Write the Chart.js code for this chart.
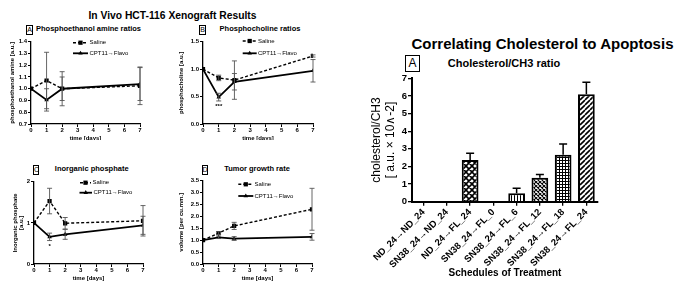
<!DOCTYPE html>
<html><head><meta charset="utf-8">
<script src="https://cdn.jsdelivr.net/npm/chart.js@4/dist/chart.umd.min.js"></script>
<style>
html,body{margin:0;padding:0;background:#fff;}
body{width:678px;height:281px;position:relative;overflow:hidden;font-family:"Liberation Sans",Arial,sans-serif;color:#000;}
canvas{position:absolute;}
.t{position:absolute;transform:translate(-50%,-50%);white-space:nowrap;font-weight:bold;line-height:1;}
.box{position:absolute;border:1px solid #000;box-sizing:border-box;text-align:center;}
</style></head><body>
<div class="t" style="left:172.5px;top:16px;font-size:10.3px">In Vivo HCT-116 Xenograft Results</div>
<div class="box" style="left:26px;top:25px;width:7px;height:10px;font-size:7px;line-height:8px">A</div>
<div class="t" style="left:88.5px;top:29px;font-size:7.5px">Phosphoethanol amine ratios</div>
<div class="box" style="left:199px;top:25px;width:7px;height:10px;font-size:7px;line-height:8px">B</div>
<div class="t" style="left:260px;top:29px;font-size:7.5px">Phosphocholine ratios</div>
<div class="box" style="left:33px;top:165px;width:6px;height:9.5px;font-size:7px;line-height:8px">C</div>
<div class="t" style="left:91.7px;top:169.3px;font-size:7.5px">Inorganic phosphate</div>
<div class="box" style="left:201.5px;top:165px;width:6px;height:9.5px;font-size:7px;line-height:8px">D</div>
<div class="t" style="left:257px;top:169px;font-size:7.5px">Tumor growth rate</div>
<div class="t" style="left:542.5px;top:42.7px;font-size:15px">Correlating Cholesterol to Apoptosis</div>
<div class="box" style="left:405px;top:55px;width:15px;height:17px;font-size:12px;line-height:15px;border-width:1.5px">A</div>
<div class="t" style="left:504px;top:62.7px;font-size:11px">Cholesterol/CH3 ratio</div>

<canvas id="cA" width="170" height="120" style="left:0;top:20px"></canvas>
<canvas id="cB" width="170" height="120" style="left:170px;top:20px"></canvas>
<canvas id="cC" width="170" height="141" style="left:0;top:140px"></canvas>
<canvas id="cD" width="170" height="141" style="left:170px;top:140px"></canvas>
<canvas id="cR" width="338" height="211" style="left:340px;top:70px"></canvas>

<script>
// ---------- DATA ----------
const days = [0, 1, 2, 7];
const seriesNames = ['Saline', 'CPT11\u2192Flavo'];

// A: Phosphoethanol amine ratios
const peSaline = [1.00, 1.07, 1.00, 1.025];
const peSalineErr = [0, 0.24, 0.145, 0.16];
const peCpt = [1.00, 0.905, 1.00, 1.04];
const peCptErr = [0, 0.095, 0.10, 0.14];
const peTicks = [0.7, 0.8, 0.9, 1.0, 1.1, 1.2, 1.3, 1.4];

// B: Phosphocholine ratios
const pcSaline = [1.00, 0.84, 0.80, 1.24];
const pcSalineErr = [0, 0.05, 0.35, 0.02];
const pcCpt = [1.00, 0.49, 0.77, 0.97];
const pcCptErr = [0, 0.07, 0.15, 0.205];
const pcTicks = [0, 0.5, 1.0, 1.5];

// C: Inorganic phosphate
const ipSaline = [1.00, 1.53, 0.99, 1.05];
const ipSalineErr = [0, 0.31, 0.14, 0.37];
const ipCpt = [1.00, 0.66, 0.72, 0.94];
const ipCptErr = [0, 0.09, 0.12, 0.22];
const ipTicks = [0, 1, 2];

// D: Tumor growth rate
const tgSaline = [1.00, 1.30, 1.60, 2.30];
const tgSalineErr = [0, 0.06, 0.15, 0.88];
const tgCpt = [1.00, 1.12, 1.07, 1.14];
const tgCptErr = [0, 0.05, 0.08, 0.14];
const tgTicks = [0, 0.5, 1.0, 1.5, 2.0, 2.5, 3.0, 3.5];

// Right: Cholesterol/CH3 ratio
const schedules = ['ND_24\u2192ND_24', 'SN38_24\u2192ND_24', 'ND_24\u2192FL_24', 'SN38_24\u2192FL_0',
  'SN38_24\u2192FL_6', 'SN38_24\u2192FL_12', 'SN38_24\u2192FL_18', 'SN38_24\u2192FL_24'];
const cholValues = [0, 0, 2.37, 0, 0.48, 1.36, 2.67, 6.10];
const cholErr = [0, 0, 0.38, 0, 0.28, 0.19, 0.61, 0.68];
const cholTicks = [0, 1, 2, 3, 4, 5, 6, 7];
const cholFills = ['none', 'none', 'cross', 'none', 'vert', 'fine', 'grid', 'diag'];

// ---------- SETUP ----------
const FF = '"Liberation Sans", Arial, sans-serif';
Chart.defaults.color = '#000';
Chart.defaults.font.family = FF;

const errorBars = {
  id: 'errorBars',
  afterDatasetsDraw(chart, args, o) {
    if (!o || !o.errors) return;
    const ctx = chart.ctx, ys = chart.scales.y;
    ctx.save();
    ctx.strokeStyle = o.color; ctx.lineWidth = o.width; ctx.setLineDash([]);
    chart.data.datasets.forEach((ds, i) => {
      const meta = chart.getDatasetMeta(i);
      const errs = o.errors[i];
      meta.data.forEach((el, j) => {
        const e = errs[j]; if (!e) return;
        const v = o.values[i][j];
        const x = el.x;
        const yt = ys.getPixelForValue(v + e);
        const yb = o.upOnly ? ys.getPixelForValue(v) : ys.getPixelForValue(v - e);
        ctx.beginPath();
        ctx.moveTo(x, yb); ctx.lineTo(x, yt);
        ctx.moveTo(x - o.cap, yt); ctx.lineTo(x + o.cap, yt);
        if (!o.upOnly) { ctx.moveTo(x - o.cap, yb); ctx.lineTo(x + o.cap, yb); }
        ctx.stroke();
      });
    });
    ctx.restore();
  }
};

function drawMarker(ctx, style, x, y, r) {
  ctx.beginPath();
  if (style === 'rect') {
    const s = r * Math.SQRT1_2;
    ctx.rect(x - s, y - s, 2 * s, 2 * s);
  } else {
    ctx.moveTo(x, y - r); ctx.lineTo(x + r * 0.87, y + r * 0.5); ctx.lineTo(x - r * 0.87, y + r * 0.5); ctx.closePath();
  }
  ctx.fill();
}

const miniLegend = {
  id: 'miniLegend',
  afterDraw(chart, args, o) {
    if (!o || !o.items) return;
    const ctx = chart.ctx;
    chart.data.datasets.forEach((ds, i) => {
      const it = o.items[i];
      ctx.save();
      ctx.strokeStyle = '#000'; ctx.fillStyle = '#000';
      ctx.lineWidth = ds.borderWidth; ctx.setLineDash(ds.borderDash || []);
      ctx.beginPath(); ctx.moveTo(it.x1, it.y); ctx.lineTo(it.x2, it.y); ctx.stroke();
      ctx.setLineDash([]);
      drawMarker(ctx, ds.pointStyle, (it.x1 + it.x2) / 2, it.y, ds.pointRadius);
      ctx.font = o.font; ctx.textBaseline = 'middle'; ctx.textAlign = 'left';
      ctx.fillText(ds.label, it.tx, it.y);
      ctx.restore();
    });
  }
};

const marks = {
  id: 'marks',
  afterDraw(chart, args, o) {
    if (!o || !o.list) return;
    const ctx = chart.ctx;
    ctx.save(); ctx.fillStyle = '#000'; ctx.font = o.font;
    ctx.textAlign = 'center'; ctx.textBaseline = 'middle';
    o.list.forEach(m => ctx.fillText(m.text, chart.scales.x.getPixelForValue(m.x), chart.scales.y.getPixelForValue(m.y)));
    ctx.restore();
  }
};

Chart.register(errorBars, miniLegend, marks);

const tickFont = {family: FF, size: 6, weight: 'bold'};
const titleFont = {family: FF, size: 6, weight: 'bold', lineHeight: 1.15};

function lineChart(id, p) {
  const mk = arr => days.map((d, i) => ({x: d, y: arr[i]}));
  return new Chart(document.getElementById(id), {
    type: 'line',
    data: {datasets: [
      {label: seriesNames[0], data: mk(p.s), borderColor: '#000', backgroundColor: '#000', borderWidth: 1.4, borderDash: [3, 2],
        pointStyle: 'rect', pointRadius: 3, pointBackgroundColor: '#000', pointBorderColor: '#000', pointBorderWidth: 0, fill: false, tension: 0},
      {label: seriesNames[1], data: mk(p.c), borderColor: '#000', backgroundColor: '#000', borderWidth: 1.8,
        pointStyle: 'triangle', pointRadius: 2.6, pointBackgroundColor: '#000', pointBorderColor: '#000', pointBorderWidth: 0, fill: false, tension: 0}
    ]},
    options: {
      responsive: false, animation: false, events: [],
      layout: {padding: {left: 0, top: p.top, right: p.right, bottom: 0}},
      plugins: {
        legend: {display: false}, tooltip: {enabled: false},
        errorBars: {errors: [p.se, p.ce], values: [p.s, p.c], color: '#555', width: 0.9, cap: 2.5},
        miniLegend: {items: p.leg, font: '6px ' + FF},
        marks: {list: p.marks || [], font: 'bold 6px ' + FF}
      },
      scales: {
        x: {type: 'linear', min: 0, max: 7,
          afterBuildTicks: s => { s.ticks = [0,1,2,3,4,5,6,7].map(v => ({value: v})); },
          ticks: {font: tickFont, color: '#000', padding: 0, maxRotation: 0, callback: v => String(v)},
          grid: {drawOnChartArea: false, tickLength: 3, color: '#000', lineWidth: 1},
          border: {color: '#000', width: 1.3},
          title: {display: true, text: 'time [days]', font: titleFont, color: '#000', padding: {top: 0, bottom: p.xtb}},
          afterFit: s => { s.height = p.xh; }},
        y: {type: 'linear', min: p.ticks[0], max: p.ticks[p.ticks.length - 1],
          afterBuildTicks: s => { s.ticks = p.ticks.map(v => ({value: v})); },
          ticks: {font: tickFont, color: '#000', padding: 1, callback: v => v.toFixed(p.dec)},
          grid: {drawOnChartArea: false, tickLength: 3, color: '#000', lineWidth: 1},
          border: {color: '#000', width: 1.3},
          title: {display: true, text: p.ytitle, font: titleFont, color: '#000', padding: {top: p.ytp, bottom: 0}},
          afterFit: s => { s.width = p.yw; }}
      }
    }
  });
}

lineChart('cA', {s: peSaline, se: peSalineErr, c: peCpt, ce: peCptErr, ticks: peTicks, dec: 1,
  top: 21.7, right: 30, xh: 16, yw: 31, xtb: -2.2, ytp: 9.1, ytitle: 'phosphoethanol amine [a.u.]',
  leg: [{x1: 73, x2: 88, y: 22.7, tx: 89.5}, {x1: 73, x2: 88, y: 33.3, tx: 89.5}]});
lineChart('cB', {s: pcSaline, se: pcSalineErr, c: pcCpt, ce: pcCptErr, ticks: pcTicks, dec: 1,
  top: 21.7, right: 27, xh: 16, yw: 33, xtb: -2.2, ytp: 8.1, ytitle: 'phosphocholine [a.u.]',
  leg: [{x1: 72.7, x2: 86.7, y: 21, tx: 88}, {x1: 72.7, x2: 86.7, y: 33.3, tx: 88}],
  marks: [{x: 1, y: 0.315, text: '***'}]});
lineChart('cC', {s: ipSaline, se: ipSalineErr, c: ipCpt, ce: ipCptErr, ticks: ipTicks, dec: 0,
  top: 41.7, right: 27, xh: 17, yw: 34, xtb: -0.6, ytp: 11.4, ytitle: ['Inorganic phosphate', '[a.u.]'],
  leg: [{x1: 80, x2: 91, y: 42.7, tx: 92.5}, {x1: 79.5, x2: 92, y: 52.7, tx: 93.5}],
  marks: [{x: 1, y: 0.42, text: '*'}]});
lineChart('cD', {s: tgSaline, se: tgSalineErr, c: tgCpt, ce: tgCptErr, ticks: tgTicks, dec: 1,
  top: 40.7, right: 28, xh: 17, yw: 33, xtb: -0.6, ytp: 8.1, ytitle: 'volume [per cu.mm.]',
  leg: [{x1: 68.3, x2: 83.3, y: 44.3, tx: 84.5}, {x1: 68.3, x2: 83.3, y: 56, tx: 84.5}]});

// ---------- patterns ----------
function makePattern(kind) {
  if (kind === 'none') return 'rgba(0,0,0,0)';
  const sizes = {cross: 6, vert: 3, fine: 4, grid: 3, diag: 5};
  const s = sizes[kind];
  const c = document.createElement('canvas'); c.width = s; c.height = s;
  const g = c.getContext('2d');
  g.fillStyle = '#fff'; g.fillRect(0, 0, s, s);
  g.strokeStyle = '#000';
  g.beginPath();
  if (kind === 'vert') { g.lineWidth = 1; g.moveTo(0.5, 0); g.lineTo(0.5, s); }
  else if (kind === 'grid') { g.lineWidth = 1; g.moveTo(0.5, 0); g.lineTo(0.5, s); g.moveTo(0, 0.5); g.lineTo(s, 0.5); }
  else {
    g.lineWidth = kind === 'fine' ? 1.1 : 1.6;
    for (let k = -1; k <= 1; k++) {
      g.moveTo(k * s, s); g.lineTo(k * s + s, 0);
      if (kind !== 'diag') { g.moveTo(k * s, 0); g.lineTo(k * s + s, s); }
    }
  }
  g.stroke();
  return g.createPattern(c, 'repeat');
}

new Chart(document.getElementById('cR'), {
  type: 'bar',
  data: {labels: schedules, datasets: [{
    data: cholValues, backgroundColor: cholFills.map(makePattern),
    borderColor: '#000', borderWidth: 2, barPercentage: 0.72, categoryPercentage: 1
  }]},
  options: {
    responsive: false, animation: false, events: [],
    layout: {padding: {left: 0, top: 8.3, right: 80, bottom: 0}},
    plugins: {
      legend: {display: false}, tooltip: {enabled: false},
      errorBars: {errors: [cholErr], values: [cholValues], color: '#000', width: 1.5, cap: 4, upOnly: true}
    },
    scales: {
      x: {offset: true,
        ticks: {font: {family: FF, size: 9.5, weight: 'bold'}, color: '#000', minRotation: 45, maxRotation: 45, padding: 1, autoSkip: false},
        grid: {offset: false, drawOnChartArea: false, tickLength: 4, color: '#000', lineWidth: 1.3},
        border: {color: '#000', width: 2},
        title: {display: true, text: 'Schedules of Treatment', font: {family: FF, size: 10, weight: 'bold', lineHeight: 1.2}, color: '#000', padding: {top: 0, bottom: 1.5}},
        afterFit: s => { s.height = 79.3; }},
      y: {min: 0, max: 7,
        afterBuildTicks: s => { s.ticks = cholTicks.map(v => ({value: v})); },
        ticks: {font: {family: FF, size: 9.5, weight: 'bold'}, color: '#000', padding: 1},
        grid: {drawOnChartArea: false, tickLength: 4, color: '#000', lineWidth: 1.3},
        border: {color: '#000', width: 2},
        title: {display: true, text: ['cholesterol/CH3', '[ a.u. \u00d7 10\u2227-2]'], font: {family: FF, size: 12, lineHeight: 1.2}, color: '#000', padding: {top: 29.5, bottom: 0}},
        afterFit: s => { s.width = 72; }}
    }
  }
});
</script>
</body></html>
